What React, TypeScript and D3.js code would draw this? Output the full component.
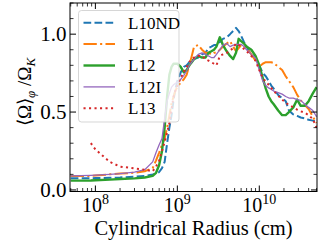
import * as d3 from 'd3';

// cylindrical radius grid (cm)
const radius = [
  5.0e7, 8.8e7, 1.0e8, 1.5e8, 2.0e8, 3.0e8, 4.0e8, 5.0e8, 5.5e8, 6.0e8, 6.5e8, 7.0e8, 7.5e8, 8.0e8, 8.5e8, 9.0e8, 9.5e8,
  1.0e9, 1.1e9, 1.2e9, 1.3e9, 1.4e9, 1.5e9, 1.6e9, 1.8e9, 2.0e9, 2.2e9, 2.4e9, 2.6e9, 2.8e9,
  3.0e9, 3.3e9, 3.6e9, 4.0e9, 4.4e9, 4.8e9, 5.2e9, 5.6e9, 6.0e9, 6.5e9, 7.0e9, 7.5e9, 8.0e9, 9.0e9,
  1.0e10, 1.1e10, 1.2e10, 1.3e10, 1.4e10, 1.5e10, 1.7e10, 1.9e10, 2.1e10, 2.3e10, 2.6e10, 2.9e10, 3.2e10, 3.6e10, 4.0e10, 4.5e10, 5.0e10,
];

const l10nd = [
  0.075, 0.075, 0.076, 0.078, 0.08, 0.085, 0.09, 0.10, 0.105, 0.115, 0.14, 0.18, 0.30, 0.40, 0.48, 0.58, 0.65,
  0.70, 0.755, 0.79, 0.80, 0.82, 0.83, 0.84, 0.85, 0.87, 0.88, 0.91, 0.92, 0.93,
  0.93, 0.95, 0.97, 0.98, 1.0, 1.02, 1.04, 1.02, 0.99, 0.95, 0.92, 0.89, 0.87, 0.84,
  0.80, 0.75, 0.73, 0.70, 0.67, 0.65, 0.61, 0.59, 0.57, 0.51, 0.485, 0.475, 0.465, 0.46, 0.45, 0.445, 0.44,
];

const l11 = [
  0.09, 0.09, 0.092, 0.10, 0.105, 0.11, 0.12, 0.14, 0.19, 0.24, 0.29, 0.33, 0.40, 0.48, 0.555, 0.60, 0.64,
  0.66, 0.69, 0.71, 0.74, 0.80, 0.86, 0.92, 0.93, 0.90, 0.88, 0.88, 0.87, 0.88,
  0.88, 0.90, 0.92, 0.94, 0.955, 0.92, 0.89, 0.91, 0.93, 0.92, 0.91, 0.89, 0.87, 0.83,
  0.79, 0.81, 0.82, 0.82, 0.82, 0.815, 0.79, 0.77, 0.73, 0.70, 0.66, 0.61, 0.575, 0.545, 0.52, 0.47, 0.43,
];

const l12 = [
  0.06, 0.061, 0.062, 0.066, 0.07, 0.074, 0.08, 0.09, 0.11, 0.16, 0.25, 0.40, 0.60, 0.74, 0.79, 0.81, 0.81,
  0.81, 0.79, 0.755, 0.77, 0.80, 0.82, 0.84, 0.86, 0.85, 0.85, 0.88, 0.89, 0.90,
  0.92, 0.98, 0.93, 0.89, 0.86, 0.84, 0.88, 0.97, 0.955, 0.94, 0.92, 0.91, 0.90, 0.86,
  0.80, 0.72, 0.65, 0.60, 0.57, 0.55, 0.51, 0.48, 0.48, 0.50, 0.53, 0.58, 0.54, 0.54, 0.57, 0.62, 0.66,
];

const l12i = [
  0.09, 0.094, 0.095, 0.10, 0.105, 0.115, 0.13, 0.18, 0.24, 0.29, 0.33, 0.46, 0.57, 0.62, 0.66, 0.675, 0.685,
  0.69, 0.71, 0.735, 0.765, 0.80, 0.82, 0.84, 0.87, 0.88, 0.87, 0.86, 0.85, 0.85,
  0.87, 0.90, 0.93, 0.94, 0.92, 0.93, 0.935, 0.935, 0.935, 0.92, 0.90, 0.885, 0.87, 0.845,
  0.77, 0.70, 0.67, 0.655, 0.645, 0.635, 0.625, 0.615, 0.60, 0.59, 0.59, 0.58, 0.575, 0.55, 0.53, 0.51, 0.47,
];

const l13 = [
  null, 0.30, 0.26, 0.18, 0.15, 0.138, 0.13, 0.12, 0.15, 0.19, 0.25, 0.31, 0.37, 0.43, 0.52, 0.60, 0.64,
  0.67, 0.72, 0.76, 0.79, 0.82, 0.84, 0.85, 0.86, 0.86, 0.84, 0.83, 0.82, 0.81,
  0.80, 0.86, 0.87, 0.88, 0.895, 0.91, 0.94, 0.93, 0.92, 0.905, 0.89, 0.875, 0.86, 0.83,
  0.77, 0.72, 0.695, 0.675, 0.655, 0.635, 0.605, 0.58, 0.56, 0.545, 0.53, 0.515, 0.505, 0.495, 0.48, 0.455, 0.40,
];

const seriesNames = ['L10ND', 'L11', 'L12', 'L12I', 'L13'];
const seriesValues = [l10nd, l11, l12, l12i, l13];
const seriesColors = ['#1f77b4', '#ff7f0e', '#2ca02c', '#9467bd', '#d62728'];
const seriesDash = ['7.7,3.3', '13.3,3.3,2.1,3.3', '', '', '2.1,3.4'];
const seriesWidth = [2, 2, 2.4, 1.3, 2];

const yMajor = [0, 0.5, 1.0];
const yMajorLabels = ['0.0', '0.5', '1.0'];
const xMajor = [1e8, 1e9, 1e10];
const xMajorExp = ['8', '9', '10'];

const serif = 'Liberation Serif';

export default function App() {
  const left = 70, right = 317, top = 3, bottom = 191.5;

  const x = d3.scaleLog().domain([4.9e7, 5.06e10]).range([left, right]);
  const y = d3.scaleLinear().domain([-0.01, 1.2]).range([bottom, top]);

  const line = d3.line<[number, number | null]>()
    .defined(d => d[1] !== null)
    .x(d => x(d[0]))
    .y(d => y(d[1] as number));

  const xMinor = x.ticks().filter(t => !xMajor.some(m => Math.abs(m - t) / m < 1e-6));
  const yMinor = d3.range(0, 1.21, 0.1).filter(v => !yMajor.some(m => Math.abs(m - v) < 1e-6));

  const legendX = 78.5, legendY = 10.5, rowH = 21.4;

  return (
    <svg width={320} height={240} style={{ position: 'absolute', left: 0, top: 0 }}>
      <rect width={320} height={240} fill="#fff" />
      <defs>
        <clipPath id="plot">
          <rect x={left} y={top} width={right - left} height={bottom - top} />
        </clipPath>
      </defs>

      <g clipPath="url(#plot)">
        {seriesValues.map((vals, i) => (
          <path
            key={seriesNames[i]}
            d={line(radius.map((r, j) => [r, vals[j]] as [number, number | null])) || ''}
            fill="none"
            stroke={seriesColors[i]}
            strokeWidth={seriesWidth[i]}
            strokeDasharray={seriesDash[i] || undefined}
            strokeLinejoin="round"
          />
        ))}
      </g>

      {/* legend */}
      <rect x={legendX} y={legendY} width={100.5} height={111.5} rx={3}
        fill="#fff" fillOpacity={0.8} stroke="#cccccc" strokeOpacity={0.8} />
      {seriesNames.map((name, i) => {
        const cy = 22.7 + i * rowH;
        return (
          <g key={name}>
            <line x1={83.5} x2={115} y1={cy} y2={cy} stroke={seriesColors[i]}
              strokeWidth={seriesWidth[i]} strokeDasharray={seriesDash[i] || undefined} />
            <text x={128} y={cy + 5.8} fontSize={17} fontFamily={serif}>{name}</text>
          </g>
        );
      })}

      {/* frame */}
      <rect x={left} y={top} width={right - left} height={bottom - top} fill="none" stroke="#000" strokeWidth={1} />

      {/* ticks */}
      {xMajor.map(t => (
        <g key={'xM' + t}>
          <line x1={x(t)} x2={x(t)} y1={bottom} y2={bottom - 6} stroke="#000" />
          <line x1={x(t)} x2={x(t)} y1={top} y2={top + 6} stroke="#000" />
        </g>
      ))}
      {xMinor.map(t => (
        <g key={'xm' + t}>
          <line x1={x(t)} x2={x(t)} y1={bottom} y2={bottom - 3.5} stroke="#000" strokeWidth={0.8} />
          <line x1={x(t)} x2={x(t)} y1={top} y2={top + 3.5} stroke="#000" strokeWidth={0.8} />
        </g>
      ))}
      {yMajor.map(v => (
        <g key={'yM' + v}>
          <line x1={left} x2={left + 6} y1={y(v)} y2={y(v)} stroke="#000" />
          <line x1={right} x2={right - 6} y1={y(v)} y2={y(v)} stroke="#000" />
        </g>
      ))}
      {yMinor.map(v => (
        <g key={'ym' + v}>
          <line x1={left} x2={left + 3.5} y1={y(v)} y2={y(v)} stroke="#000" strokeWidth={0.8} />
          <line x1={right} x2={right - 3.5} y1={y(v)} y2={y(v)} stroke="#000" strokeWidth={0.8} />
        </g>
      ))}

      {/* tick labels */}
      {yMajor.map((v, i) => (
        <text key={'yl' + v} x={66.5} y={y(v) + 7} fontSize={21} textAnchor="end" fontFamily={serif}>{yMajorLabels[i]}</text>
      ))}
      {xMajor.map((t, i) => (
        <text key={'xl' + t} x={x(t)} y={211.5} fontSize={20} textAnchor="middle" fontFamily={serif}>
          10<tspan dy={-8} fontSize={14}>{xMajorExp[i]}</tspan>
        </text>
      ))}

      {/* axis labels */}
      <text x={(left + right) / 2} y={234.5} fontSize={20.5} textAnchor="middle" fontFamily={serif}>Cylindrical Radius (cm)</text>
      <text transform="translate(31, 92) rotate(-90)" fontSize={19} textAnchor="middle" fontFamily={serif}>
        ⟨Ω⟩<tspan dy={4} fontSize={13} fontStyle="italic">φ</tspan>
        <tspan dy={-4}> /Ω</tspan>
        <tspan dy={4} fontSize={13} fontStyle="italic">K</tspan>
      </text>
    </svg>
  );
}
